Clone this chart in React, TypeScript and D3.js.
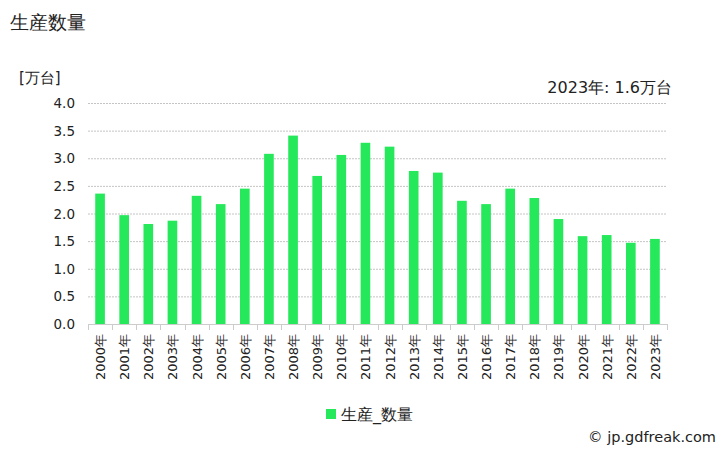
import React from "react";
import * as d3 from "d3";

const years = ["2000","2001","2002","2003","2004","2005","2006","2007","2008","2009","2010","2011","2012","2013","2014","2015","2016","2017","2018","2019","2020","2021","2022","2023"];
const values = [2.36,1.97,1.81,1.87,2.32,2.17,2.45,3.08,3.41,2.68,3.06,3.28,3.21,2.77,2.74,2.23,2.17,2.45,2.28,1.90,1.59,1.61,1.47,1.54];
const yTicks = [0,0.5,1,1.5,2,2.5,3,3.5,4];

const W = 728, H = 450;
const left = 88, right = 667, top = 103, bottom = 324;
const font = "'DejaVu Sans', Verdana, sans-serif";
const green = "#25e85b";

export default function App() {
  const x = d3.scaleBand<string>().domain(years).range([left, right]).paddingInner(0.6).paddingOuter(0.3);
  const xb = d3.scaleBand<string>().domain(years).range([left, right]);
  const y = d3.scaleLinear().domain([0, 4]).range([bottom, top]);
  return (
    <svg width={W} height={H} style={{ position: "absolute", left: 0, top: 0 }} fontFamily={font}>
      <rect width={W} height={H} fill="#fff" />
      <text x={10} y={29} fontSize={19} fill="#222">生産数量</text>
      <text x={19} y={83} fontSize={15} fill="#222">[万台]</text>
      <text x={672} y={93} fontSize={16} fill="#222" textAnchor="end">2023年: 1.6万台</text>
      {yTicks.map((t) => (
        <g key={t}>
          {t > 0 && <line x1={left} x2={right} y1={y(t) + 0.5} y2={y(t) + 0.5} stroke="#c4c4c4" strokeDasharray="2,1" />}
          <text x={75} y={y(t) + 5} fontSize={13.5} fill="#222" textAnchor="end">{t.toFixed(1)}</text>
        </g>
      ))}
      {years.map((yr, i) => (
        <rect key={yr} x={x(yr)} y={y(values[i])} width={x.bandwidth()} height={bottom - y(values[i])} fill={green} />
      ))}
      <line x1={left} x2={right} y1={bottom + 0.5} y2={bottom + 0.5} stroke="#ccc" />
      {years.concat(["end"]).map((yr, i) => {
        const xx = Math.round(left + i * xb.step()) + 0.5;
        return <line key={"t" + i} x1={xx} x2={xx} y1={bottom} y2={bottom + 6} stroke="#ccc" />;
      })}
      {years.map((yr) => {
        const cx = (xb(yr) as number) + xb.bandwidth() / 2;
        return (
          <text key={"l" + yr} transform={`translate(${cx + 5},${334}) rotate(-90)`} fontSize={13} fill="#222" textAnchor="end">{yr}年</text>
        );
      })}
      <rect x={326} y={409} width={10} height={10} fill={green} />
      <text x={341} y={420} fontSize={16} fill="#222">生産_数量</text>
      <text x={716} y={442} fontSize={14.5} fill="#222" textAnchor="end">© jp.gdfreak.com</text>
    </svg>
  );
}
